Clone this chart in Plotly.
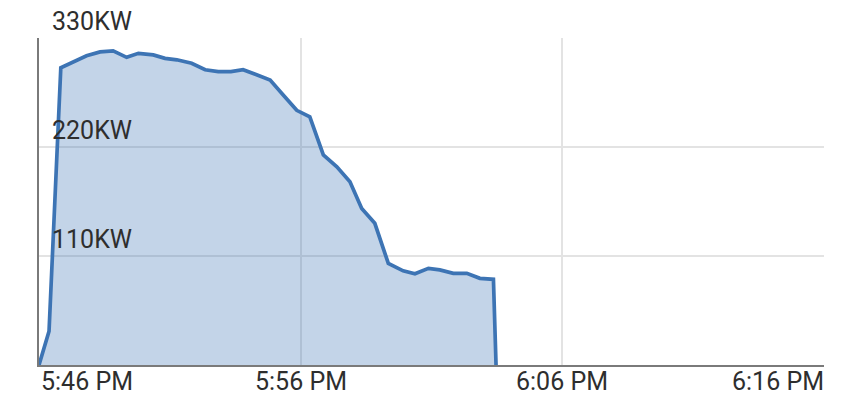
import plotly.graph_objects as go

times = [
    "2024-01-01 17:46:00", "2024-01-01 17:46:23", "2024-01-01 17:46:50",
    "2024-01-01 17:47:19", "2024-01-01 17:47:49", "2024-01-01 17:48:20",
    "2024-01-01 17:48:50", "2024-01-01 17:49:21", "2024-01-01 17:49:48",
    "2024-01-01 17:50:22", "2024-01-01 17:50:49", "2024-01-01 17:51:16",
    "2024-01-01 17:51:50", "2024-01-01 17:52:21", "2024-01-01 17:52:51",
    "2024-01-01 17:53:20", "2024-01-01 17:53:48", "2024-01-01 17:54:19",
    "2024-01-01 17:54:50", "2024-01-01 17:55:20", "2024-01-01 17:55:51",
    "2024-01-01 17:56:21", "2024-01-01 17:56:52", "2024-01-01 17:57:23",
    "2024-01-01 17:57:53", "2024-01-01 17:58:20", "2024-01-01 17:58:50",
    "2024-01-01 17:59:21", "2024-01-01 17:59:55", "2024-01-01 18:00:22",
    "2024-01-01 18:00:53", "2024-01-01 18:01:19", "2024-01-01 18:01:50",
    "2024-01-01 18:02:21", "2024-01-01 18:02:51", "2024-01-01 18:03:22",
    "2024-01-01 18:03:28",
]
power_kw = [
    0, 34, 300, 306, 312, 316, 317, 310.5, 314.5, 313, 309.5, 308,
    304.5, 298, 296, 296, 298, 293, 287.5, 272.5, 257, 250.5, 212,
    200, 185, 158, 143, 102.5, 95, 92, 97.5, 96, 92.5, 92.5, 87.5,
    86.5, 0,
]

y_ticks = [110, 220, 330]
y_tick_labels = ["110KW", "220KW", "330KW"]
x_ticks = ["2024-01-01 17:46:00", "2024-01-01 17:56:00",
           "2024-01-01 18:06:00", "2024-01-01 18:16:00"]
x_tick_labels = ["5:46 PM", "5:56 PM", "6:06 PM", "6:16 PM"]

LINE = "#3d74b4"
FONT = dict(family="Roboto, Arial, sans-serif", size=25, color="#2e2e2e")

fig = go.Figure()
fig.add_trace(go.Scatter(
    x=times, y=power_kw, mode="lines",
    line=dict(color=LINE, width=3.7),
    fill="tozeroy", fillcolor="rgba(61,116,180,0.31)",
    hoverinfo="skip", showlegend=False,
))

annotations = []
for v, t in zip(y_ticks, y_tick_labels):
    annotations.append(dict(
        x=0, xref="paper", y=v, yref="y", text=t, showarrow=False,
        xanchor="left", yanchor="bottom", xshift=11, yshift=0, font=FONT,
    ))
anchors = ["left", "center", "center", "right"]
for i, (v, t) in enumerate(zip(x_ticks, x_tick_labels)):
    annotations.append(dict(
        x=v, xref="x", y=0, yref="y", text=t, showarrow=False,
        xanchor=anchors[i], yanchor="top", yshift=0,
        xshift=2 if i == len(x_ticks) - 1 else 0, font=FONT,
    ))

fig.update_layout(
    width=864, height=418,
    margin=dict(l=39, r=40, t=38, b=53),
    paper_bgcolor="white", plot_bgcolor="white",
    annotations=annotations,
    xaxis=dict(
        type="date",
        range=[x_ticks[0], x_ticks[-1]],
        tickvals=x_ticks, showticklabels=False, ticks="",
        showgrid=True, gridcolor="#e3e3e3", gridwidth=1.5,
        showline=True, linecolor="#7a7a7a", linewidth=2,
        zeroline=False, fixedrange=True,
    ),
    yaxis=dict(
        range=[0, 330],
        tickvals=[0] + y_ticks, showticklabels=False, ticks="",
        showgrid=True, gridcolor="#e3e3e3", gridwidth=1.5,
        showline=True, linecolor="#7a7a7a", linewidth=2,
        zeroline=False, fixedrange=True,
    ),
)

fig.write_html(
    "out.html",
    config={"displayModeBar": False},
    post_script="document.body.style.margin='0';document.body.style.padding='0';",
)
